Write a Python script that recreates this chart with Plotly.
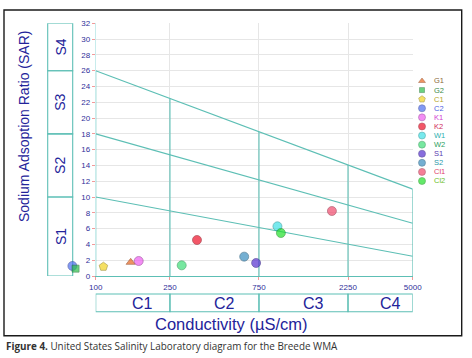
import numpy as np
import plotly.graph_objects as go

W, H = 472, 358

# ---------------- data ----------------
samples = ["G1", "G2", "C1", "C2", "K1", "K2", "W1", "W2", "S1", "S2", "Cl1", "Cl2"]
conductivity = [154, 78, 110, 75, 170, 349, 942, 289, 724, 625, 1845, 983]
sar = [1.73, 0.93, 1.18, 1.27, 1.9, 4.56, 6.29, 1.35, 1.65, 2.45, 8.23, 5.44]
symbols = ["triangle-up", "square", "pentagon", "circle", "circle", "circle",
           "circle", "circle", "circle", "circle", "circle", "circle"]
marker_colors = ["#e8641e", "#2cc04a", "#f2d422", "#4d6ef0", "#ee5ef0", "#ee1028",
                 "#3ee0e6", "#3ede78", "#5530d0", "#3a8ec0", "#f04a6c", "#22e02a"]
outline_colors = ["#8a3a10", "#1a6a2a", "#8a7a10", "#2a3a90", "#8a2a8a", "#8a0a18",
                  "#1a8a8a", "#1a8a40", "#2a1a7a", "#1a5070", "#902a40", "#128a18"]
text_colors = ["#8a6a3a", "#3a8a4a", "#b4a42a", "#4a5ae0", "#d23ad2", "#d02a5a",
               "#2ab0b0", "#2aa060", "#5a3ab0", "#2a9aaa", "#e0406a", "#6ac02a"]

x_ticks = [100, 250, 750, 2250, 5000]
y_ticks = list(range(0, 33, 2))
c_classes = ["C1", "C2", "C3", "C4"]
s_classes = ["S1", "S2", "S3", "S4"]
s_bounds = [0, 10, 18, 26, 32]          # SAR class limits at the left edge
sar_lines_left = [10, 18, 26]           # boundary lines at 100 uS/cm
sar_lines_right = [2.5, 6.67, 11]       # boundary lines at 5000 uS/cm
ec_range = [100, 5000]
sar_range = [0, 32]

# ---------------- style ----------------
TEAL = "#5dbfb5"
NAVY = "#23239a"
FONT = "Liberation Sans, Arial, sans-serif"
SYMBOL_SIZE = {"circle": 9, "pentagon": 9, "triangle-up": 8, "square": 7}

def px(xp):
    return xp / W

def py(yp):
    return 1 - yp / H

x_dom = [px(95.7), px(412.7)]
y_dom = [py(276), py(23.3)]
# wider, invisible twin of the x axis (same scale) so that samples below
# 100 uS/cm, plotted over the S-class column, are not hidden
x3_dom = [px(40), x_dom[1]]
lr = np.log10(ec_range)
x3_span = (lr[1] - lr[0]) * (x3_dom[1] - x3_dom[0]) / (x_dom[1] - x_dom[0])
x3_range = [lr[1] - x3_span, lr[1]]

fig = go.Figure()

# salinity-hazard boundary lines (straight on the log axis)
for left, right in zip(sar_lines_left, sar_lines_right):
    fig.add_trace(go.Scatter(x=ec_range, y=[left, right], mode="lines",
                             line=dict(color=TEAL, width=1.1),
                             hoverinfo="skip", showlegend=False))

# vertical class boundaries up to the top (S3/S4) line
for b in x_ticks:
    top = np.interp(np.log10(b), lr, [sar_lines_left[-1], sar_lines_right[-1]])
    fig.add_trace(go.Scatter(x=[b, b], y=[0, top], mode="lines",
                             line=dict(color=TEAL, width=1.1),
                             hoverinfo="skip", showlegend=False))

# samples (G2 drawn after C2)
order = [0, 2, 3, 1, 4, 5, 6, 7, 8, 9, 10, 11]
fig.add_trace(go.Scatter(
    x=[conductivity[i] for i in order], y=[sar[i] for i in order],
    xaxis="x3", yaxis="y3",
    mode="markers", cliponaxis=False, showlegend=False,
    text=[samples[i] for i in order],
    marker=dict(symbol=[symbols[i] for i in order],
                color=[marker_colors[i] for i in order],
                size=[SYMBOL_SIZE[symbols[i]] for i in order],
                line=dict(color=[outline_colors[i] for i in order], width=0.7)),
))

# custom compact legend (on its own small pixel-unit axes)
leg_x0, leg_y0, leg_dy = 422, 81, 9.09
leg_y = [leg_y0 + i * leg_dy for i in range(len(samples))]
fig.add_trace(go.Scatter(
    x=[leg_x0] * len(samples), y=leg_y, xaxis="x2", yaxis="y2",
    mode="markers", showlegend=False, hoverinfo="skip", cliponaxis=False,
    marker=dict(symbol=symbols, color=marker_colors,
                size=[SYMBOL_SIZE[s] - 2 for s in symbols],
                line=dict(color=outline_colors, width=0.6)),
))

annotations = []
for name, yv, tc in zip(samples, leg_y, text_colors):
    annotations.append(dict(x=leg_x0 + 10, y=yv, xref="x2", yref="y2",
                            text=name, showarrow=False, xanchor="left",
                            yanchor="middle",
                            font=dict(family=FONT, size=7.5, color=tc)))

shapes = []
# outer frame
shapes.append(dict(type="rect", xref="paper", yref="paper",
                   x0=px(4), x1=px(461.7), y0=py(335.7), y1=py(10),
                   line=dict(color="#1a1a1a", width=1.4), layer="above"))
# S boxes
for i, lab in enumerate(s_classes):
    y0, y1 = s_bounds[i], s_bounds[i + 1]
    shapes.append(dict(type="rect", xref="paper", yref="y",
                       x0=px(47.7), x1=px(72.7), y0=y0, y1=y1,
                       line=dict(color=TEAL, width=1.1), layer="below"))
    annotations.append(dict(x=px(60.5), y=(y0 + y1) / 2, xref="paper", yref="y",
                            xanchor="center", yanchor="middle",
                            text=lab, showarrow=False, textangle=-90,
                            font=dict(family=FONT, size=14, color=NAVY)))
# C boxes
for i, lab in enumerate(c_classes):
    a, b = x_ticks[i], x_ticks[i + 1]
    shapes.append(dict(type="rect", xref="x", yref="paper",
                       x0=a, x1=b, y0=py(311.7), y1=py(294),
                       line=dict(color=TEAL, width=1.1)))
    annotations.append(dict(x=(np.log10(a) + np.log10(b)) / 2, y=py(303.3),
                            xref="x", yref="paper", xshift=10,
                            xanchor="center", yanchor="middle",
                            text=lab, showarrow=False,
                            font=dict(family=FONT, size=16, color=NAVY)))

# axis titles
annotations.append(dict(x=px(231.5), y=py(324), xref="paper", yref="paper",
                        xanchor="center", yanchor="middle",
                        text="Conductivity (µS/cm)", showarrow=False,
                        font=dict(family=FONT, size=16.5, color=NAVY)))
annotations.append(dict(x=px(24), y=py(127), xref="paper", yref="paper",
                        xanchor="center", yanchor="middle",
                        text="Sodium Adsoption Ratio (SAR)", showarrow=False,
                        textangle=-90,
                        font=dict(family=FONT, size=14, color=NAVY)))
# caption
annotations.append(dict(x=px(4), y=py(346), xref="paper", yref="paper",
                        xanchor="left", yanchor="middle",
                        text="<b>Figure 4.</b> United States Salinity Laboratory diagram for the Breede WMA",
                        showarrow=False,
                        font=dict(family="Open Sans, sans-serif", size=9.9, color="#333333")))

fig.update_layout(
    width=W, height=H,
    margin=dict(l=0, r=0, t=0, b=0, pad=0, autoexpand=False),
    paper_bgcolor="white", plot_bgcolor="rgba(0,0,0,0)",
    xaxis=dict(type="log", range=list(lr), domain=x_dom, automargin=False,
               tickvals=x_ticks, ticktext=[str(v) for v in x_ticks],
               tickfont=dict(family=FONT, size=8, color="#2f2f9a"),
               ticks="outside", ticklen=3, tickcolor="#f29a9a",
               showgrid=True, gridcolor="#e6e6e6", gridwidth=1,
               showline=True, linecolor=TEAL, linewidth=1.1,
               zeroline=False),
    yaxis=dict(range=sar_range, domain=y_dom, automargin=False,
               tickvals=y_ticks,
               tickfont=dict(family=FONT, size=8, color="#2f2f9a"),
               ticks="outside", ticklen=3, tickcolor="#f29a9a",
               showgrid=True, gridcolor="#e6e6e6", gridwidth=1,
               showline=True, linecolor="#c8ecec", linewidth=1,
               zeroline=False),
    xaxis3=dict(type="log", range=x3_range, domain=x3_dom, anchor="y3",
                visible=False, fixedrange=True, automargin=False),
    yaxis3=dict(range=sar_range, domain=y_dom, anchor="x3",
                visible=False, fixedrange=True, automargin=False),
    xaxis2=dict(domain=[px(414), px(470)], range=[414, 470], anchor="y2",
                visible=False, fixedrange=True, automargin=False),
    yaxis2=dict(domain=[py(192), py(70)], range=[192, 70], anchor="x2",
                visible=False, fixedrange=True, automargin=False),
    shapes=shapes,
    annotations=annotations,
    font=dict(family=FONT),
)

fig.write_html(
    "out.html",
    config={"displayModeBar": False},
    post_script="document.body.style.margin='0px';document.body.style.overflow='hidden';",
)
